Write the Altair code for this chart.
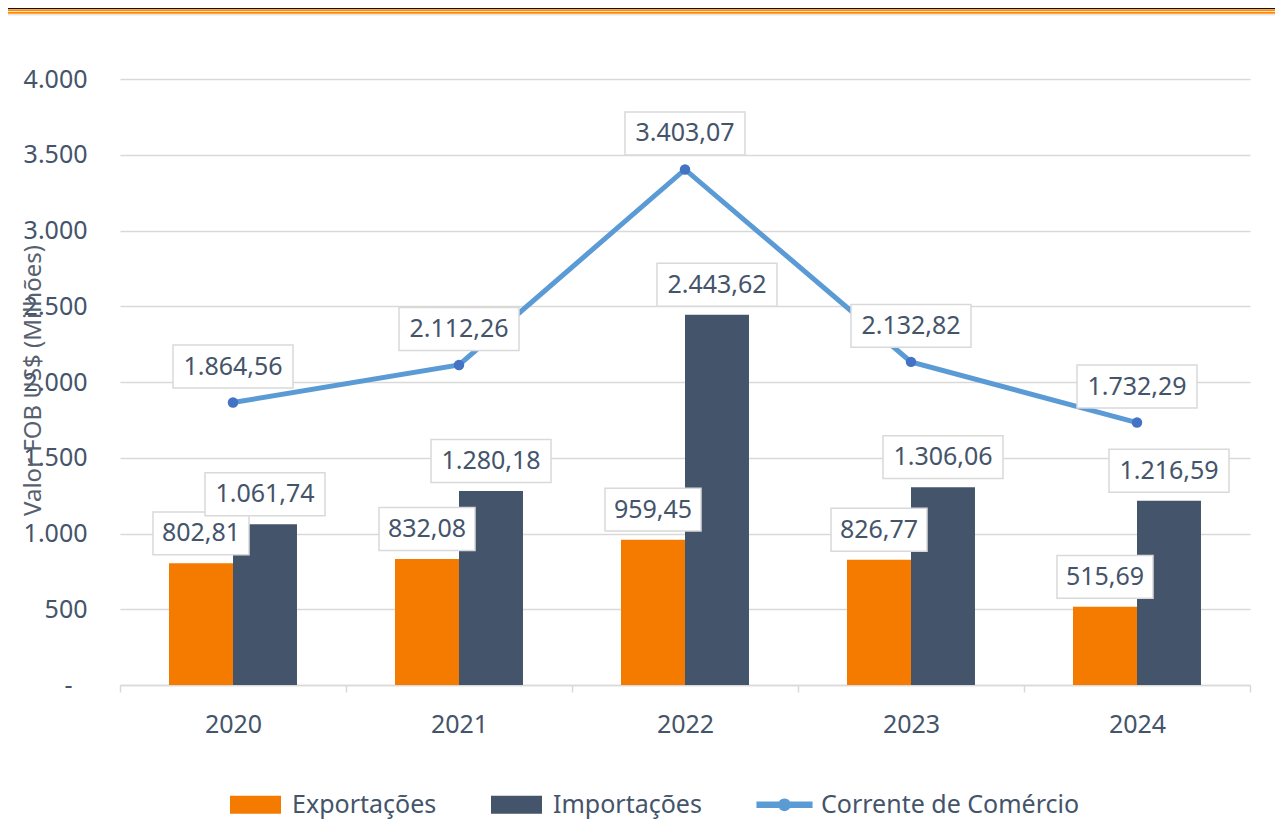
import altair as alt
import pandas as pd

years = ["2020", "2021", "2022", "2023", "2024"]
exportacoes = [802.81, 832.08, 959.45, 826.77, 515.69]
importacoes = [1061.74, 1280.18, 2443.62, 1306.06, 1216.59]
corrente = [1864.56, 2112.26, 3403.07, 2132.82, 1732.29]
series = ["Exportações", "Importações", "Corrente de Comércio"]
colors = ["#F47A00", "#44546A", "#5B9BD5"]
y_ticks = [0, 500, 1000, 1500, 2000, 2500, 3000, 3500, 4000]

FONT = "Noto Sans"
TXT = "#44546A"
GRID = "#D9D9D9"


def br(v):
    s = f"{v:,.2f}"
    return s.replace(",", "X").replace(".", ",").replace("X", ".")


rows = []
for i, y in enumerate(years):
    for s, vals in ((series[0], exportacoes), (series[1], importacoes)):
        lab = br(vals[i])
        rows.append({"ano": y, "serie": s, "valor": vals[i], "rotulo": lab,
                     "caixa": "long" if len(lab) > 6 else "short"})
bars_df = pd.DataFrame(rows)

line_df = pd.DataFrame({
    "ano": years,
    "valor": corrente,
    "rotulo": [br(v) for v in corrente],
    "caixa": ["long" if len(br(v)) > 6 else "short" for v in corrente],
})

BOX_W = 120
box_long = "M-1,-0.358L1,-0.358L1,0.358L-1,0.358Z"
box_short = "M-0.8,-0.358L0.8,-0.358L0.8,0.358L-0.8,0.358Z"

x_enc = alt.X("ano:N", sort=years,
              scale=alt.Scale(paddingInner=0, paddingOuter=0),
              axis=alt.Axis(title=None, labelFont=FONT, labelFontSize=25, labelColor=TXT,
                            labelAngle=0, labelPadding=20, tickBand="extent",
                            domainColor=GRID, domainWidth=1.5, tickColor=GRID,
                            tickWidth=1.5, tickSize=7, grid=False))
y_enc = alt.Y("valor:Q",
              scale=alt.Scale(domain=[0, 4000], nice=False),
              axis=alt.Axis(values=y_ticks, grid=True, gridColor=GRID, gridWidth=1.5,
                            domain=False, ticks=False,
                            labelPadding={"condition": {"test": "datum.value == 0", "value": 48}, "value": 33},
                            labelFont=FONT, labelFontSize=25, labelColor=TXT,
                            labelExpr="datum.value == 0 ? '-' : replace(format(datum.value, ',.0f'), ',', '.')",
                            title="Valor FOB US$ (Milhões)", titleFont=FONT,
                            titleFontSize=24, titleFontWeight="normal", titleColor="#56606E",
                            titleX=-87, titleY=301, titleAngle=-90,
                            titleAlign="center", titleBaseline="middle"))

legend_shape = ("datum.value === 'Corrente de Comércio' ? "
                "'M-1.1,-0.13L1.1,-0.13L1.1,0.13L-1.1,0.13Z M0.25,0A0.25,0.25 0 1,1 -0.25,0A0.25,0.25 0 1,1 0.25,0Z' : "
                "'M-1,-0.35L1,-0.35L1,0.35L-1,0.35Z'")

bars = alt.Chart(bars_df).mark_bar().encode(
    x=x_enc,
    xOffset=alt.XOffset("serie:N", sort=series[:2],
                        scale=alt.Scale(paddingInner=0, paddingOuter=0.766)),
    y=y_enc,
    color=alt.Color("serie:N", scale=alt.Scale(domain=series, range=colors),
                    legend=alt.Legend(orient="none", legendX=110, legendY=700,
                                      direction="horizontal", columns=3, title=None,
                                      symbolSize=2601,
                                      symbolType=alt.ExprRef(expr=legend_shape),
                                      symbolStrokeWidth=0, labelFont=FONT,
                                      labelFontSize=25, labelColor=TXT, labelOffset=11,
                                      columnPadding=54, labelLimit=400)),
)

line = alt.Chart(line_df).mark_line(color="#5B9BD5", strokeWidth=5).encode(
    x=alt.X("ano:N", sort=years), y="valor:Q")
pts = alt.Chart(line_df).mark_point(filled=True, color="#4472C4", size=110, opacity=1).encode(
    x=alt.X("ano:N", sort=years), y="valor:Q")

shape_scale = alt.Scale(domain=["short", "long"], range=[box_short, box_long])

line_box = alt.Chart(line_df).mark_point(filled=True, fill="white", stroke=GRID, strokeWidth=1.5,
                                         size=BOX_W * BOX_W, opacity=1, yOffset=-36).encode(
    x=alt.X("ano:N", sort=years), y="valor:Q",
    shape=alt.Shape("caixa:N", scale=shape_scale, legend=None))
line_txt = alt.Chart(line_df).mark_text(font=FONT, fontSize=25, color=TXT, yOffset=-36,
                                        baseline="middle").encode(
    x=alt.X("ano:N", sort=years), y="valor:Q", text="rotulo:N")

bar_box = alt.Chart(bars_df).mark_point(filled=True, fill="white", stroke=GRID, strokeWidth=1.5,
                                        size=BOX_W * BOX_W, opacity=1, yOffset=-30).encode(
    x=alt.X("ano:N", sort=years),
    xOffset=alt.XOffset("serie:N", sort=series[:2]),
    y="valor:Q",
    shape=alt.Shape("caixa:N", scale=shape_scale, legend=None))
bar_txt = alt.Chart(bars_df).mark_text(font=FONT, fontSize=25, color=TXT, yOffset=-30,
                                       baseline="middle").encode(
    x=alt.X("ano:N", sort=years),
    xOffset=alt.XOffset("serie:N", sort=series[:2]),
    y="valor:Q", text="rotulo:N")

deco = pd.DataFrame({"k": [0]})
dark = alt.Chart(deco).mark_rule(color="#111111", strokeWidth=2).encode(
    x=alt.value(-112), x2=alt.value(1160), y=alt.value(-71))
or1 = alt.Chart(deco).mark_rule(color="#FF8A00", strokeWidth=2).encode(
    x=alt.value(-112), x2=alt.value(1160), y=alt.value(-68.7))
or2 = alt.Chart(deco).mark_rule(color="#FF8A00", strokeWidth=1.7).encode(
    x=alt.value(-112), x2=alt.value(1160), y=alt.value(-66.1))
gr = alt.Chart(deco).mark_rule(color="#E3E6EA", strokeWidth=1.5).encode(
    x=alt.value(-112), x2=alt.value(1160), y=alt.value(-64.3))

chart = alt.layer(bars, line, pts, line_box, line_txt, bar_box, bar_txt, dark, or1, or2, gr).properties(
    width=1130, height=606,
    autosize=alt.AutoSizeParams(type="none"),
    padding={"left": 112, "top": 71, "right": 25, "bottom": 137},
    background="white",
).configure_view(strokeWidth=0)

chart.save("out.html", embed_options={"renderer": "svg", "actions": False})
